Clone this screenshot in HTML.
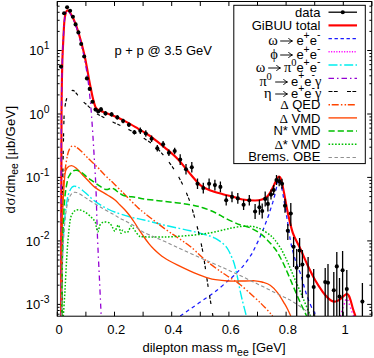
<!DOCTYPE html><html><head><meta charset="utf-8"><title>plot</title><style>
html,body{margin:0;padding:0;background:#fff}
#c{position:relative;width:374px;height:358px;overflow:hidden;background:#fff;font-family:"Liberation Sans", sans-serif;color:#000;font-size:13px}
.t{position:absolute;white-space:nowrap;line-height:13px;height:13px}
.yl{text-align:right;width:40px;left:9.5px}
.xl{text-align:center;width:40px}
.lg{text-align:right;width:140px;left:180.4px}
.g{font-family:"Liberation Serif", serif;font-size:14.5px;display:inline-block;text-align:center;line-height:13px}
.sp{display:inline-block;width:3.25px}
.ar{display:inline-block;width:12.8px;height:8px;position:relative}
.ar svg{position:absolute;left:0;top:0}
sup,sub{font-size:10.4px;line-height:0;position:relative;vertical-align:baseline}
sup{top:-6.2px} sub{top:3.4px}
sup.m{top:-7.3px}
sup.g{font-size:10.5px;display:inline;top:-6px}

</style></head><body><div id="c">
<svg width="374" height="358" viewBox="0 0 374 358" style="position:absolute;left:0;top:0">
<rect width="374" height="358" fill="#fff"/>
<defs><clipPath id="cp"><rect x="57.3" y="1.5" width="314.4" height="314.7"/></clipPath></defs>
<path d="M57.3,316.2 v-4.5 M57.3,1.5 v4.5 M85.9,316.2 v-4.5 M85.9,1.5 v4.5 M114.5,316.2 v-4.5 M114.5,1.5 v4.5 M143.1,316.2 v-4.5 M143.1,1.5 v4.5 M171.7,316.2 v-4.5 M171.7,1.5 v4.5 M200.3,316.2 v-4.5 M200.3,1.5 v4.5 M228.9,316.2 v-4.5 M228.9,1.5 v4.5 M257.5,316.2 v-4.5 M257.5,1.5 v4.5 M286.1,316.2 v-4.5 M286.1,1.5 v4.5 M314.7,316.2 v-4.5 M314.7,1.5 v4.5 M343.3,316.2 v-4.5 M343.3,1.5 v4.5 M371.9,316.2 v-4.5 M371.9,1.5 v4.5 M57.3,314.2 h2.3 M371.7,314.2 h-2.3 M57.3,310.5 h2.3 M371.7,310.5 h-2.3 M57.3,307.3 h2.3 M371.7,307.3 h-2.3 M57.3,304.4 h4.5 M371.7,304.4 h-4.5 M57.3,285.2 h2.3 M371.7,285.2 h-2.3 M57.3,274.1 h2.3 M371.7,274.1 h-2.3 M57.3,266.1 h2.3 M371.7,266.1 h-2.3 M57.3,260.0 h2.3 M371.7,260.0 h-2.3 M57.3,255.0 h2.3 M371.7,255.0 h-2.3 M57.3,250.7 h2.3 M371.7,250.7 h-2.3 M57.3,247.0 h2.3 M371.7,247.0 h-2.3 M57.3,243.8 h2.3 M371.7,243.8 h-2.3 M57.3,240.9 h4.5 M371.7,240.9 h-4.5 M57.3,221.8 h2.3 M371.7,221.8 h-2.3 M57.3,210.6 h2.3 M371.7,210.6 h-2.3 M57.3,202.7 h2.3 M371.7,202.7 h-2.3 M57.3,196.6 h2.3 M371.7,196.6 h-2.3 M57.3,191.5 h2.3 M371.7,191.5 h-2.3 M57.3,187.3 h2.3 M371.7,187.3 h-2.3 M57.3,183.6 h2.3 M371.7,183.6 h-2.3 M57.3,180.4 h2.3 M371.7,180.4 h-2.3 M57.3,177.4 h4.5 M371.7,177.4 h-4.5 M57.3,158.3 h2.3 M371.7,158.3 h-2.3 M57.3,147.2 h2.3 M371.7,147.2 h-2.3 M57.3,139.2 h2.3 M371.7,139.2 h-2.3 M57.3,133.1 h2.3 M371.7,133.1 h-2.3 M57.3,128.1 h2.3 M371.7,128.1 h-2.3 M57.3,123.8 h2.3 M371.7,123.8 h-2.3 M57.3,120.1 h2.3 M371.7,120.1 h-2.3 M57.3,116.9 h2.3 M371.7,116.9 h-2.3 M57.3,114.0 h4.5 M371.7,114.0 h-4.5 M57.3,94.9 h2.3 M371.7,94.9 h-2.3 M57.3,83.7 h2.3 M371.7,83.7 h-2.3 M57.3,75.8 h2.3 M371.7,75.8 h-2.3 M57.3,69.7 h2.3 M371.7,69.7 h-2.3 M57.3,64.6 h2.3 M371.7,64.6 h-2.3 M57.3,60.4 h2.3 M371.7,60.4 h-2.3 M57.3,56.7 h2.3 M371.7,56.7 h-2.3 M57.3,53.5 h2.3 M371.7,53.5 h-2.3 M57.3,50.5 h4.5 M371.7,50.5 h-4.5 M57.3,31.4 h2.3 M371.7,31.4 h-2.3 M57.3,20.3 h2.3 M371.7,20.3 h-2.3 M57.3,12.3 h2.3 M371.7,12.3 h-2.3 M57.3,6.2 h2.3 M371.7,6.2 h-2.3" stroke="#000" stroke-width="1" fill="none"/>
<g clip-path="url(#cp)" fill="none" stroke-linejoin="round">
<path d="M61.2,316.0 C61.2,296.7 61.2,232.7 61.3,200.0 C61.3,167.3 61.4,138.7 61.5,120.0 C61.6,101.3 61.6,98.0 61.8,88.0 C61.9,78.0 62.2,67.3 62.4,60.0 C62.6,52.7 62.8,50.3 63.1,44.0 C63.4,37.7 63.9,27.1 64.3,22.0 C64.7,16.9 65.1,15.4 65.6,13.5 C66.1,11.6 66.4,10.7 67.1,10.5 C67.8,10.3 68.7,10.5 70.0,12.5 C71.3,14.5 73.5,18.7 75.1,22.6 C76.7,26.5 78.0,31.0 79.5,36.0 C81.0,41.0 82.7,47.5 83.9,52.8 C85.2,58.1 86.0,62.6 87.0,68.0 C88.0,73.4 89.2,80.5 90.2,85.4 C91.2,90.3 91.9,94.1 92.7,97.6 C93.5,101.1 94.5,104.5 95.2,106.4 C95.9,108.3 96.4,108.3 97.0,109.0 C97.6,109.7 97.8,109.8 99.0,110.3 C100.2,110.8 101.7,111.3 104.0,112.2 C106.3,113.1 109.2,114.1 112.8,115.6 C116.4,117.1 121.2,119.2 125.4,121.4 C129.6,123.6 134.9,126.8 138.0,128.6 C141.1,130.4 141.6,130.7 144.0,132.2 C146.4,133.7 149.1,135.2 152.6,137.8 C156.1,140.4 160.9,144.3 165.1,147.8 C169.3,151.3 173.5,154.6 177.7,159.0 C181.9,163.4 186.5,169.7 190.3,174.0 C194.1,178.3 197.0,182.3 200.3,185.1 C203.7,187.8 206.6,189.0 210.4,190.5 C214.2,192.0 219.0,193.1 222.9,194.2 C226.8,195.3 230.7,196.1 234.0,197.0 C237.3,197.9 239.1,198.9 242.6,199.5 C246.1,200.1 251.9,200.5 255.1,200.5 C258.3,200.5 260.1,200.1 262.0,199.5 C263.9,198.9 265.1,198.3 266.5,197.2 C267.9,196.0 268.8,195.0 270.2,192.6 C271.6,190.2 274.0,185.0 275.2,182.6 C276.4,180.2 276.9,179.0 277.5,178.0 C278.1,177.0 278.5,176.6 279.0,176.6 C279.5,176.6 280.0,176.9 280.5,178.0 C281.0,179.1 281.4,180.6 282.0,183.0 C282.6,185.4 283.0,187.7 284.0,192.6 C285.0,197.5 286.3,206.0 287.8,212.7 C289.3,219.4 290.7,226.8 292.8,232.8 C294.9,238.8 297.7,243.1 300.2,248.5 C302.7,253.9 305.1,259.9 307.6,265.2 C310.1,270.5 312.7,275.8 315.2,280.2 C317.7,284.6 320.6,288.8 322.7,291.8 C324.8,294.8 326.5,296.5 328.0,298.0 C329.5,299.5 330.4,300.2 331.5,300.8 C332.6,301.4 333.4,301.6 334.5,301.6 C335.6,301.6 336.8,301.3 338.0,300.6 C339.2,299.9 340.6,298.7 342.0,297.6 C343.4,296.5 345.5,294.3 346.6,294.0 C347.7,293.7 348.1,294.4 348.8,295.6 C349.5,296.8 350.1,298.8 350.8,301.0 C351.5,303.2 352.2,306.5 353.0,309.0 C353.8,311.5 355.0,314.8 355.4,316.0" stroke="#ff0000" stroke-width="2.15"/>
<path d="M180.2,316.0 C181.9,314.8 186.5,311.6 190.3,309.0 C194.1,306.4 198.6,303.2 202.8,300.3 C207.0,297.4 211.2,294.8 215.4,291.5 C219.6,288.2 224.9,283.5 228.0,280.8 C231.1,278.1 231.4,278.1 234.0,275.5 C236.6,272.9 240.8,268.8 243.7,265.3 C246.6,261.8 249.3,257.7 251.3,254.6 C253.3,251.5 254.0,249.5 255.5,246.5 C257.0,243.5 258.8,239.8 260.2,236.6 C261.6,233.4 262.8,230.6 264.0,227.5 C265.2,224.4 266.6,220.7 267.7,217.8 C268.8,214.9 269.5,212.5 270.3,210.0 C271.1,207.5 271.9,205.2 272.7,202.7 C273.4,200.2 274.2,197.5 274.8,195.0 C275.4,192.5 276.0,189.8 276.5,187.6 C277.0,185.4 277.5,183.5 277.9,182.0 C278.3,180.5 278.6,179.0 279.0,178.8 C279.4,178.6 279.8,179.8 280.2,181.0 C280.6,182.2 281.0,183.9 281.4,186.0 C281.8,188.1 282.3,190.6 282.8,193.5 C283.3,196.4 283.9,199.9 284.5,203.5 C285.1,207.1 285.9,211.3 286.5,215.3 C287.1,219.3 287.8,223.4 288.4,227.5 C289.0,231.6 289.6,236.2 290.3,240.0 C291.0,243.8 291.7,246.8 292.5,250.0 C293.3,253.2 294.2,256.2 295.0,259.0 C295.8,261.8 296.6,264.1 297.5,266.5 C298.4,268.9 299.5,270.8 300.4,273.5 C301.3,276.2 302.2,279.6 303.0,282.5 C303.8,285.4 304.5,288.1 305.4,291.0 C306.3,293.9 307.2,296.8 308.5,300.0 C309.8,303.2 311.5,307.3 312.9,310.0 C314.3,312.7 316.1,315.0 316.7,316.0" stroke="#1a1aff" stroke-width="1.25" stroke-dasharray="3.7,3.4"/>
<path d="M340.3,316.0 C340.6,315.1 341.6,312.4 342.2,310.5 C342.8,308.6 343.6,306.2 344.1,304.5 C344.6,302.8 345.0,301.4 345.4,300.5 C345.8,299.6 346.2,298.9 346.6,298.8 C347.0,298.7 347.4,299.3 347.8,300.0 C348.2,300.7 348.6,301.9 349.0,303.2 C349.4,304.4 349.9,306.0 350.4,307.5 C350.9,309.0 351.5,310.6 352.0,312.0 C352.5,313.4 353.3,315.3 353.6,316.0" stroke="#ff00ff" stroke-width="1.4" stroke-dasharray="1.4,2.6"/>
<path d="M61.6,316.0 C61.7,310.0 61.8,291.8 62.0,280.0 C62.2,268.2 62.6,254.2 63.0,245.0 C63.4,235.8 63.8,230.8 64.2,225.0 C64.6,219.2 65.0,214.8 65.6,210.0 C66.2,205.2 67.1,199.6 68.0,196.0 C68.9,192.4 70.0,190.1 71.0,188.5 C72.0,186.9 72.7,186.4 73.9,186.2 C75.1,186.0 76.5,186.6 78.0,187.3 C79.5,188.0 81.0,189.1 82.7,190.5 C84.5,191.9 86.4,193.7 88.5,195.5 C90.6,197.3 92.0,199.2 95.2,201.4 C98.4,203.7 103.6,206.9 107.8,209.0 C112.0,211.1 116.2,212.6 120.4,214.0 C124.6,215.4 129.0,216.6 132.9,217.6 C136.8,218.6 138.6,218.7 144.0,220.0 C149.4,221.3 157.4,223.5 165.1,225.3 C172.8,227.1 183.2,229.1 190.3,230.8 C197.4,232.5 203.7,234.2 207.8,235.4 C211.9,236.6 212.9,237.2 215.0,238.2 C217.1,239.2 218.7,240.4 220.4,241.6 C222.1,242.8 223.7,244.2 225.0,245.5 C226.3,246.8 227.0,247.8 228.0,249.5 C229.0,251.2 230.0,253.2 231.0,255.5 C232.0,257.8 233.0,259.8 234.0,263.0 C235.0,266.2 236.0,270.4 237.0,275.0 C238.0,279.6 239.0,285.6 240.0,290.3 C241.0,295.0 241.9,298.7 243.0,303.0 C244.1,307.3 245.8,313.8 246.3,316.0" stroke="#00eeee" stroke-width="1.4" stroke-dasharray="9,2.3,1.8,2.6"/>
<path d="M61.1,316.0 C61.1,296.7 61.2,232.7 61.2,200.0 C61.2,167.3 61.3,138.5 61.4,120.0 C61.5,101.5 61.6,98.8 61.7,89.0 C61.9,79.2 62.1,68.3 62.3,61.0 C62.5,53.7 62.7,51.3 63.0,45.0 C63.3,38.7 63.8,28.1 64.2,23.0 C64.6,17.9 65.0,16.4 65.5,14.5 C66.0,12.6 66.2,11.7 67.0,11.5 C67.8,11.3 68.7,11.5 70.0,13.5 C71.3,15.5 73.5,19.7 75.0,23.6 C76.5,27.5 77.9,32.0 79.3,37.0 C80.7,42.0 82.3,48.3 83.5,53.8 C84.7,59.3 85.7,65.0 86.5,70.0 C87.3,75.0 87.9,79.3 88.5,84.0 C89.1,88.7 89.5,92.8 90.0,98.0 C90.5,103.2 91.0,108.0 91.5,115.0 C92.0,122.0 92.7,132.0 93.2,140.3 C93.7,148.6 94.2,156.7 94.7,165.0 C95.2,173.3 95.5,177.9 96.0,190.0 C96.5,202.1 96.9,222.5 97.5,237.5 C98.1,252.5 98.9,266.9 99.5,280.0 C100.1,293.1 100.9,310.0 101.2,316.0" stroke="#9400d3" stroke-width="1.3" stroke-dasharray="5.3,3.6,1.5,3.6"/>
<path d="M61.9,316.0 C62.0,305.0 62.1,272.7 62.2,250.0 C62.4,227.3 62.5,200.8 62.8,180.0 C63.1,159.2 63.5,136.7 63.8,125.0 C64.1,113.3 64.2,114.2 64.6,110.0 C65.0,105.8 65.6,102.7 66.3,100.0 C67.0,97.3 67.8,95.4 68.8,93.8 C69.8,92.2 71.6,90.7 72.6,90.4 C73.6,90.1 74.2,91.0 75.0,91.8 C75.8,92.6 76.4,93.5 77.6,95.0 C78.8,96.5 80.3,98.7 82.0,100.5 C83.7,102.3 85.7,103.8 87.7,105.6 C89.7,107.4 91.9,109.8 94.0,111.5 C96.1,113.2 97.2,113.8 100.3,115.6 C103.4,117.3 108.6,120.0 112.8,122.0 C117.0,124.0 121.2,125.7 125.4,127.8 C129.6,129.9 134.9,132.8 138.0,134.5 C141.1,136.2 141.8,137.0 143.8,138.3 C145.8,139.6 148.0,140.9 150.0,142.3 C152.0,143.8 154.1,145.2 156.0,147.0 C157.9,148.8 159.6,150.7 161.4,152.8 C163.2,154.9 165.1,157.1 167.0,159.5 C168.9,161.9 170.7,164.3 172.7,167.3 C174.7,170.3 176.9,173.7 179.0,177.5 C181.1,181.3 183.4,186.0 185.2,190.1 C187.0,194.2 188.5,197.8 190.0,202.0 C191.5,206.2 192.8,211.0 194.0,215.3 C195.2,219.6 196.4,223.7 197.5,228.0 C198.6,232.3 199.7,236.8 200.6,241.0 C201.5,245.2 202.2,248.6 203.0,253.0 C203.8,257.4 204.3,261.1 205.3,267.7 C206.3,274.3 207.8,284.8 209.1,292.8 C210.4,300.9 212.3,312.1 212.9,316.0" stroke="#000000" stroke-width="1.2" stroke-dasharray="3.5,1.8,3.3,9.0" stroke-dashoffset="1.9"/>
<path d="M61.5,316.0 C61.5,305.0 61.6,269.3 61.8,250.0 C62.0,230.7 62.3,211.3 62.6,200.0 C62.9,188.7 63.2,186.9 63.6,182.0 C64.0,177.1 64.3,174.9 65.0,170.4 C65.7,165.9 66.7,158.7 67.5,155.0 C68.3,151.3 69.2,149.5 70.0,148.0 C70.8,146.5 71.6,146.2 72.6,146.0 C73.6,145.8 74.6,146.2 76.0,147.0 C77.4,147.8 79.0,149.2 81.0,151.0 C83.0,152.8 84.9,155.2 87.7,157.9 C90.5,160.7 95.0,164.8 97.7,167.5 C100.4,170.2 101.5,171.7 104.0,174.2 C106.5,176.7 109.2,179.1 112.8,182.6 C116.4,186.1 121.2,191.0 125.4,195.2 C129.6,199.4 134.9,204.8 138.0,207.7 C141.1,210.6 141.7,210.8 144.0,212.7 C146.3,214.6 148.5,216.3 152.0,219.0 C155.5,221.7 160.8,225.9 165.1,229.0 C169.3,232.1 173.3,234.6 177.5,237.5 C181.7,240.4 185.7,242.8 190.3,246.5 C194.9,250.2 200.3,255.8 205.3,260.0 C210.3,264.1 216.3,268.4 220.4,271.4 C224.5,274.3 226.7,275.5 230.0,277.7 C233.3,279.9 235.8,281.1 240.0,284.5 C244.2,287.9 250.8,294.0 255.0,297.8 C259.2,301.6 262.1,304.5 265.0,307.5 C267.9,310.5 271.4,314.6 272.7,316.0" stroke="#ff4500" stroke-width="1.4" stroke-dasharray="7,2.2,1.5,2.2,1.5,1.7"/>
<path d="M61.4,316.0 C61.5,306.7 61.5,276.8 61.7,260.0 C61.9,243.2 62.1,226.7 62.5,215.0 C62.9,203.3 63.4,196.8 63.8,190.0 C64.2,183.2 64.5,177.7 65.0,174.0 C65.5,170.3 65.9,169.4 67.0,168.0 C68.1,166.6 69.9,165.6 71.4,165.6 C72.9,165.6 74.1,166.4 76.0,168.0 C77.9,169.6 80.6,172.8 82.7,175.0 C84.8,177.2 86.4,178.9 88.5,181.0 C90.6,183.1 92.0,185.2 95.2,187.6 C98.4,190.0 104.5,193.1 107.8,195.2 C111.1,197.3 113.0,198.4 115.0,200.0 C117.0,201.6 118.1,203.1 119.8,204.8 C121.5,206.5 123.4,208.2 125.0,210.0 C126.6,211.8 128.0,213.4 129.6,215.5 C131.2,217.6 132.9,220.1 134.5,222.5 C136.1,224.9 137.7,227.8 139.3,230.2 C140.9,232.6 142.4,234.7 144.0,237.0 C145.6,239.3 147.4,241.8 149.1,243.9 C150.8,246.0 152.4,247.7 154.0,249.3 C155.6,250.9 157.3,252.4 158.9,253.7 C160.5,255.0 161.9,256.2 163.5,257.3 C165.1,258.4 166.3,259.2 168.7,260.5 C171.1,261.8 174.1,263.4 177.7,265.2 C181.3,267.0 186.8,269.6 190.3,271.2 C193.8,272.8 196.1,273.7 198.7,274.7 C201.3,275.7 203.2,276.5 206.0,277.3 C208.8,278.1 211.7,279.1 215.4,279.7 C219.1,280.3 223.1,280.8 228.0,281.0 C232.9,281.2 240.5,281.0 245.0,281.0 C249.5,281.0 252.2,280.6 255.0,280.8 C257.8,281.0 259.5,281.2 262.0,282.0 C264.5,282.8 267.6,283.5 270.2,285.3 C272.8,287.1 275.4,289.9 277.7,292.8 C280.0,295.7 282.4,300.1 284.0,302.8 C285.6,305.5 286.4,306.8 287.5,309.0 C288.6,311.2 290.2,314.8 290.8,316.0" stroke="#ff4500" stroke-width="1.35"/>
<path d="M61.8,316.0 C61.9,306.7 62.0,276.0 62.3,260.0 C62.6,244.0 63.0,230.7 63.5,220.0 C64.0,209.3 64.3,202.7 65.0,196.0 C65.7,189.3 66.8,183.6 67.6,180.0 C68.4,176.4 69.1,176.0 70.0,174.5 C70.9,173.0 71.9,171.7 73.0,171.0 C74.1,170.3 75.1,170.1 76.4,170.3 C77.7,170.5 79.1,170.8 81.0,172.0 C82.9,173.2 85.5,175.9 87.7,177.6 C89.9,179.3 91.9,180.5 94.0,182.0 C96.1,183.5 98.3,185.2 100.3,186.4 C102.3,187.7 104.5,189.1 106.0,189.5 C107.5,189.9 108.1,189.2 109.0,189.0 C109.9,188.8 110.6,187.9 111.6,188.0 C112.6,188.1 113.9,188.8 115.0,189.5 C116.1,190.2 116.7,191.1 118.0,192.0 C119.3,192.9 121.1,194.4 122.9,195.2 C124.7,195.9 126.9,196.2 129.0,196.5 C131.1,196.8 132.9,196.8 135.4,197.2 C137.9,197.6 139.1,198.3 144.0,199.0 C148.9,199.7 157.4,200.5 165.1,201.4 C172.8,202.3 184.0,203.6 190.3,204.7 C196.6,205.8 198.6,206.4 202.8,207.7 C207.0,209.0 211.9,211.1 215.4,212.7 C218.9,214.3 220.9,215.9 224.0,217.5 C227.1,219.1 231.3,221.1 234.0,222.3 C236.7,223.5 237.3,223.9 240.0,224.8 C242.7,225.7 246.7,226.4 250.1,227.8 C253.5,229.2 257.3,231.4 260.2,233.5 C263.1,235.6 265.2,237.8 267.7,240.4 C270.2,243.0 273.1,246.2 275.2,249.0 C277.2,251.8 278.3,253.9 280.0,257.0 C281.7,260.1 283.2,263.0 285.3,267.7 C287.4,272.4 290.3,279.4 292.8,285.3 C295.3,291.2 298.1,297.7 300.4,302.8 C302.7,307.9 305.6,313.8 306.6,316.0" stroke="#00c000" stroke-width="1.5" stroke-dasharray="6.2,3"/>
<path d="M63.3,316.0 C63.6,311.7 64.5,299.3 65.0,290.0 C65.5,280.7 66.1,268.3 66.6,260.0 C67.1,251.7 67.5,245.8 68.0,240.0 C68.5,234.2 69.0,228.9 69.5,225.0 C70.0,221.1 70.3,218.7 71.0,216.5 C71.7,214.3 72.7,213.1 73.5,212.0 C74.3,210.9 75.1,210.6 76.0,210.2 C76.9,209.8 77.7,209.6 78.9,209.7 C80.1,209.8 81.5,210.3 83.0,211.0 C84.5,211.7 86.2,212.8 87.7,214.0 C89.2,215.2 90.8,216.7 92.0,218.0 C93.2,219.3 94.5,220.3 95.2,222.0 C96.0,223.7 96.1,226.4 96.5,228.0 C96.9,229.6 97.3,231.6 97.7,231.8 C98.1,232.0 98.4,230.1 98.8,229.0 C99.2,227.9 99.3,226.1 100.0,225.0 C100.7,223.9 101.8,222.8 102.8,222.3 C103.8,221.8 104.8,221.8 106.0,222.0 C107.2,222.2 108.8,222.4 110.0,223.4 C111.2,224.4 112.1,226.9 112.9,228.2 C113.7,229.5 114.2,231.3 114.9,231.2 C115.6,231.0 116.2,228.3 116.8,227.3 C117.4,226.3 118.1,224.3 118.8,225.3 C119.5,226.3 120.1,232.3 120.8,233.1 C121.5,233.9 121.9,230.3 122.7,230.2 C123.5,230.1 124.6,232.2 125.6,232.4 C126.6,232.6 127.8,232.2 128.6,231.2 C129.4,230.2 129.8,227.0 130.5,226.3 C131.2,225.7 131.7,226.5 132.5,227.3 C133.3,228.1 134.3,229.7 135.4,231.2 C136.5,232.7 138.0,235.2 139.3,236.1 C140.6,237.0 138.9,236.7 143.2,236.8 C147.5,237.0 157.2,237.2 165.0,237.0 C172.8,236.8 182.7,236.1 190.3,235.4 C197.9,234.7 204.6,233.8 210.4,232.8 C216.2,231.8 221.1,230.4 225.0,229.5 C228.9,228.6 231.1,228.1 234.0,227.6 C236.9,227.1 239.9,226.5 242.6,226.3 C245.3,226.1 247.6,226.1 250.0,226.3 C252.4,226.5 254.5,226.6 257.0,227.5 C259.5,228.4 262.8,230.1 265.2,231.6 C267.6,233.1 269.8,234.8 271.5,236.3 C273.2,237.8 273.7,238.5 275.2,240.4 C276.7,242.3 278.8,245.2 280.3,247.6 C281.8,249.9 282.8,252.0 284.0,254.5 C285.2,257.0 285.9,258.3 287.8,262.6 C289.7,266.9 292.8,274.3 295.3,280.2 C297.8,286.1 300.4,291.8 302.9,297.8 C305.4,303.8 309.1,313.0 310.4,316.0" stroke="#00c000" stroke-width="1.5" stroke-dasharray="1.6,1.7"/>
<path d="M61.5,316.0 C61.6,310.0 61.8,291.3 62.0,280.0 C62.2,268.7 62.6,256.7 63.0,248.0 C63.4,239.3 63.8,233.7 64.3,228.0 C64.8,222.3 65.1,218.4 65.7,214.0 C66.3,209.6 67.1,204.8 68.0,201.5 C68.9,198.2 69.9,196.0 71.0,194.5 C72.1,193.0 73.3,192.6 74.5,192.3 C75.7,192.1 76.6,192.4 78.0,193.0 C79.4,193.6 81.1,194.8 82.7,195.8 C84.3,196.8 84.8,197.3 87.7,199.2 C90.6,201.1 96.1,204.5 100.3,207.0 C104.5,209.5 109.5,212.1 112.8,214.0 C116.1,215.9 117.9,217.1 120.0,218.3 C122.1,219.5 123.4,219.9 125.4,221.0 C127.4,222.1 129.9,223.4 132.0,224.6 C134.1,225.8 136.0,227.1 138.0,228.4 C140.0,229.7 141.2,231.0 144.0,232.5 C146.8,234.0 151.5,235.8 155.0,237.3 C158.5,238.8 161.2,239.9 165.0,241.6 C168.8,243.3 171.4,244.7 177.7,247.6 C184.0,250.5 195.3,255.5 202.8,258.9 C210.3,262.2 217.7,265.4 222.9,267.7 C228.1,270.0 228.7,270.2 234.0,272.7 C239.3,275.2 247.3,278.9 255.0,282.7 C262.7,286.5 274.0,292.1 280.3,295.3 C286.6,298.5 288.6,299.1 292.8,301.6 C297.0,304.1 302.3,308.0 305.4,310.4 C308.5,312.8 310.5,315.1 311.5,316.0" stroke="#909090" stroke-width="1.1" stroke-dasharray="3.6,2.4"/>
<path d="M101.0,107.2 V111.6 M105.5,111.2 V115.6 M111.6,112.2 V116.6 M117.3,115.2 V119.6 M123.1,118.8 V123.2 M128.9,122.5 V126.9 M134.4,130.0 V134.4 M140.3,127.5 V133.9 M145.8,130.3 V136.7 M151.6,135.6 V142.0 M157.3,145.1 V151.5 M163.1,141.1 V147.5 M168.9,149.6 V156.0 M174.7,147.8 V154.2 M180.2,154.3 V164.9 M186.0,163.9 V174.5 M191.8,161.9 V172.5 M197.5,178.5 V189.1 M203.3,182.8 V193.4 M209.1,178.5 V189.1 M214.9,179.8 V190.4 M220.4,181.6 V192.2 M226.2,194.9 V205.5 M232.0,191.6 V202.2 M237.8,193.1 V203.7 M243.6,199.4 V210.0 M249.3,194.9 V205.5 M255.1,204.0 V219.0 M259.4,199.7 V214.7 M262.2,203.5 V218.5 M265.2,191.4 V206.4 M267.9,196.4 V211.4 M271.0,189.6 V199.6 M273.7,185.1 V195.1 M276.5,175.1 V185.1 M279.2,176.3 V186.3 M282.0,178.8 V188.8 M285.0,198.7 V212.7 M287.8,224.0 V240.0 M290.8,203.0 V226.0 M293.6,237.0 V267.0 M296.7,249.0 V316.0 M299.6,238.0 V267.0 M302.4,250.0 V298.0 M308.1,257.0 V316.0 M313.7,269.0 V316.0 M325.2,268.0 V316.0 M328.0,264.0 V316.0 M333.8,272.0 V316.0 M336.8,252.0 V316.0 M339.5,278.0 V316.0 M342.6,251.0 V316.0 M346.8,270.0 V316.0 M362.4,283.0 V316.0" stroke="#000" stroke-width="1.3"/>
<circle cx="61.0" cy="66.6" r="2.05" fill="#000" stroke="none"/>
<circle cx="64.1" cy="13.3" r="2.05" fill="#000" stroke="none"/>
<circle cx="67.1" cy="7.3" r="2.05" fill="#000" stroke="none"/>
<circle cx="70.1" cy="10.8" r="2.05" fill="#000" stroke="none"/>
<circle cx="72.9" cy="16.8" r="2.05" fill="#000" stroke="none"/>
<circle cx="75.6" cy="24.4" r="2.05" fill="#000" stroke="none"/>
<circle cx="78.4" cy="32.4" r="2.05" fill="#000" stroke="none"/>
<circle cx="81.2" cy="44.0" r="2.05" fill="#000" stroke="none"/>
<circle cx="84.2" cy="56.5" r="2.05" fill="#000" stroke="none"/>
<circle cx="86.9" cy="78.4" r="2.05" fill="#000" stroke="none"/>
<circle cx="89.7" cy="88.9" r="2.05" fill="#000" stroke="none"/>
<circle cx="92.5" cy="101.8" r="2.05" fill="#000" stroke="none"/>
<circle cx="95.5" cy="109.6" r="2.05" fill="#000" stroke="none"/>
<circle cx="98.2" cy="111.4" r="2.05" fill="#000" stroke="none"/>
<circle cx="101.0" cy="109.4" r="2.05" fill="#000" stroke="none"/>
<circle cx="105.5" cy="113.4" r="2.05" fill="#000" stroke="none"/>
<circle cx="111.6" cy="114.4" r="2.05" fill="#000" stroke="none"/>
<circle cx="117.3" cy="117.4" r="2.05" fill="#000" stroke="none"/>
<circle cx="123.1" cy="121.0" r="2.05" fill="#000" stroke="none"/>
<circle cx="128.9" cy="124.7" r="2.05" fill="#000" stroke="none"/>
<circle cx="134.4" cy="132.2" r="2.05" fill="#000" stroke="none"/>
<circle cx="140.3" cy="130.7" r="2.05" fill="#000" stroke="none"/>
<circle cx="145.8" cy="133.5" r="2.05" fill="#000" stroke="none"/>
<circle cx="151.6" cy="138.8" r="2.05" fill="#000" stroke="none"/>
<circle cx="157.3" cy="148.3" r="2.05" fill="#000" stroke="none"/>
<circle cx="163.1" cy="144.3" r="2.05" fill="#000" stroke="none"/>
<circle cx="168.9" cy="152.8" r="2.05" fill="#000" stroke="none"/>
<circle cx="174.7" cy="151.0" r="2.05" fill="#000" stroke="none"/>
<circle cx="180.2" cy="159.6" r="2.05" fill="#000" stroke="none"/>
<circle cx="186.0" cy="169.2" r="2.05" fill="#000" stroke="none"/>
<circle cx="191.8" cy="167.2" r="2.05" fill="#000" stroke="none"/>
<circle cx="197.5" cy="183.8" r="2.05" fill="#000" stroke="none"/>
<circle cx="203.3" cy="188.1" r="2.05" fill="#000" stroke="none"/>
<circle cx="209.1" cy="183.8" r="2.05" fill="#000" stroke="none"/>
<circle cx="214.9" cy="185.1" r="2.05" fill="#000" stroke="none"/>
<circle cx="220.4" cy="186.9" r="2.05" fill="#000" stroke="none"/>
<circle cx="226.2" cy="200.2" r="2.05" fill="#000" stroke="none"/>
<circle cx="232.0" cy="196.9" r="2.05" fill="#000" stroke="none"/>
<circle cx="237.8" cy="198.4" r="2.05" fill="#000" stroke="none"/>
<circle cx="243.6" cy="204.7" r="2.05" fill="#000" stroke="none"/>
<circle cx="249.3" cy="200.2" r="2.05" fill="#000" stroke="none"/>
<circle cx="255.1" cy="211.5" r="2.05" fill="#000" stroke="none"/>
<circle cx="259.4" cy="207.2" r="2.05" fill="#000" stroke="none"/>
<circle cx="262.2" cy="211.0" r="2.05" fill="#000" stroke="none"/>
<circle cx="265.2" cy="198.9" r="2.05" fill="#000" stroke="none"/>
<circle cx="267.9" cy="203.9" r="2.05" fill="#000" stroke="none"/>
<circle cx="271.0" cy="194.6" r="2.05" fill="#000" stroke="none"/>
<circle cx="273.7" cy="190.1" r="2.05" fill="#000" stroke="none"/>
<circle cx="276.5" cy="180.1" r="2.05" fill="#000" stroke="none"/>
<circle cx="279.2" cy="181.3" r="2.05" fill="#000" stroke="none"/>
<circle cx="282.0" cy="183.8" r="2.05" fill="#000" stroke="none"/>
<circle cx="285.0" cy="205.7" r="2.05" fill="#000" stroke="none"/>
<circle cx="287.8" cy="230.8" r="2.05" fill="#000" stroke="none"/>
<circle cx="290.8" cy="213.5" r="2.05" fill="#000" stroke="none"/>
<circle cx="293.6" cy="246.8" r="2.05" fill="#000" stroke="none"/>
<circle cx="296.7" cy="267.7" r="2.05" fill="#000" stroke="none"/>
<circle cx="299.6" cy="250.5" r="2.05" fill="#000" stroke="none"/>
<circle cx="302.4" cy="264.6" r="2.05" fill="#000" stroke="none"/>
<circle cx="308.1" cy="276.0" r="2.05" fill="#000" stroke="none"/>
<circle cx="313.7" cy="287.0" r="2.05" fill="#000" stroke="none"/>
<circle cx="325.2" cy="282.0" r="2.05" fill="#000" stroke="none"/>
<circle cx="328.0" cy="282.7" r="2.05" fill="#000" stroke="none"/>
<circle cx="333.8" cy="290.3" r="2.05" fill="#000" stroke="none"/>
<circle cx="336.8" cy="266.4" r="2.05" fill="#000" stroke="none"/>
<circle cx="339.5" cy="296.6" r="2.05" fill="#000" stroke="none"/>
<circle cx="342.6" cy="270.2" r="2.05" fill="#000" stroke="none"/>
<circle cx="346.8" cy="289.0" r="2.05" fill="#000" stroke="none"/>
<circle cx="362.4" cy="301.6" r="2.05" fill="#000" stroke="none"/>
</g>
<rect x="57.3" y="1.5" width="314.4" height="314.7" fill="none" stroke="#000" stroke-width="1"/>
<rect x="233.8" y="5.3" width="131.5" height="158.29999999999998" fill="#fff" stroke="#000" stroke-width="1"/>
<path d="M328.5,12.2 H357" stroke="#000" stroke-width="1.3"/><circle cx="342.75" cy="12.2" r="2.05" fill="#000"/>
<path d="M328.5,25.4 H357" stroke="#ff0000" stroke-width="2.15" fill="none"/>
<path d="M328.5,38.6 H357" stroke="#1a1aff" stroke-width="1.25" fill="none" stroke-dasharray="3.4,2.6"/>
<path d="M328.5,51.8 H357" stroke="#ff00ff" stroke-width="1.4" fill="none" stroke-dasharray="1.15,1.45"/>
<path d="M328.5,65.0 H357" stroke="#00eeee" stroke-width="1.4" fill="none" stroke-dasharray="9,2.3,1.8,2.6"/>
<path d="M328.5,78.3 H357" stroke="#9400d3" stroke-width="1.3" fill="none" stroke-dasharray="5.5,3,1.5,3"/>
<path d="M328.5,91.5 H357" stroke="#000000" stroke-width="1.2" fill="none" stroke-dasharray="4,1.4,3.8,9.3"/>
<path d="M328.5,104.7 H357" stroke="#ff4500" stroke-width="1.4" fill="none" stroke-dasharray="7,2.2,1.5,2.2,1.5,1.7" stroke-dashoffset="12.9"/>
<path d="M328.5,117.9 H357" stroke="#ff4500" stroke-width="1.35" fill="none"/>
<path d="M328.5,131.1 H357" stroke="#00c000" stroke-width="1.5" fill="none" stroke-dasharray="6.2,3"/>
<path d="M328.5,144.3 H357" stroke="#00c000" stroke-width="1.5" fill="none" stroke-dasharray="1.6,1.7"/>
<path d="M328.5,157.5 H357" stroke="#909090" stroke-width="1.1" fill="none" stroke-dasharray="3.4,2.6"/>
</svg>
<div class="t yl" style="top:44.2px">10<sup>1</sup></div>
<div class="t yl" style="top:107.7px">10<sup>0</sup></div>
<div class="t yl" style="top:171.1px">10<sup>-1</sup></div>
<div class="t yl" style="top:234.6px">10<sup>-2</sup></div>
<div class="t yl" style="top:298.1px">10<sup>-3</sup></div>
<div class="t xl" style="left:39.1px;top:323.4px">0</div>
<div class="t xl" style="left:96.3px;top:323.4px">0.2</div>
<div class="t xl" style="left:153.5px;top:323.4px">0.4</div>
<div class="t xl" style="left:210.7px;top:323.4px">0.6</div>
<div class="t xl" style="left:267.9px;top:323.4px">0.8</div>
<div class="t xl" style="left:325.1px;top:323.4px">1</div>
<div class="t" style="left:114.5px;top:44.2px">p + p @ 3.5 GeV</div>
<div class="t" style="left:114px;width:200px;text-align:center;top:341.3px">dilepton mass m<sub>ee</sub> [GeV]</div>
<div class="t" style="left:-90px;top:153.0px;width:200px;text-align:center;transform:rotate(-90deg)"><span style="letter-spacing:0.45px">d<span class="g" style="width:8.97px">σ</span>/</span>dm<sub>ee</sub> <span style="letter-spacing:0.34px">[<span class="g" style="width:7.49px">μ</span>b/GeV]</span></div>
<div class="t lg" style="top:5.7px">data</div>
<div class="t lg" style="top:19.0px">GiBUU total</div>
<div class="t lg" style="top:34.4px"><span class="g" style="width:8.92px">ω</span><span class="sp"></span><span class="ar"><svg width="12.8" height="8" viewBox="0 0 12.8 8"><path d="M0.2,4 H11.8 M8.4,1 Q10,3.3 12.6,4 Q10,4.7 8.4,7" stroke="#000" stroke-width="0.95" fill="none"/></svg></span><span class="sp"></span>e<sup>+</sup>e<sup class="m">-</sup></div>
<div class="t lg" style="top:48.3px"><span class="g" style="width:6.77px">ϕ</span><span class="sp"></span><span class="ar"><svg width="12.8" height="8" viewBox="0 0 12.8 8"><path d="M0.2,4 H11.8 M8.4,1 Q10,3.3 12.6,4 Q10,4.7 8.4,7" stroke="#000" stroke-width="0.95" fill="none"/></svg></span><span class="sp"></span>e<sup>+</sup>e<sup class="m">-</sup></div>
<div class="t lg" style="top:61.3px"><span class="g" style="width:8.92px">ω</span><span class="sp"></span><span class="ar"><svg width="12.8" height="8" viewBox="0 0 12.8 8"><path d="M0.2,4 H11.8 M8.4,1 Q10,3.3 12.6,4 Q10,4.7 8.4,7" stroke="#000" stroke-width="0.95" fill="none"/></svg></span><span class="sp"></span><span class="g" style="width:7.14px">π</span><sup class="g">0</sup>e<sup>+</sup>e<sup class="m">-</sup></div>
<div class="t lg" style="top:74.6px"><span class="g" style="width:7.14px">π</span><sup class="g">0</sup><span class="sp"></span><span class="ar"><svg width="12.8" height="8" viewBox="0 0 12.8 8"><path d="M0.2,4 H11.8 M8.4,1 Q10,3.3 12.6,4 Q10,4.7 8.4,7" stroke="#000" stroke-width="0.95" fill="none"/></svg></span><span class="sp"></span>e<sup>+</sup>e<sup class="m">-</sup><span class="g" style="width:5.34px">γ</span></div>
<div class="t lg" style="top:87.3px"><span class="g" style="width:7.84px">η</span><span class="sp"></span><span class="ar"><svg width="12.8" height="8" viewBox="0 0 12.8 8"><path d="M0.2,4 H11.8 M8.4,1 Q10,3.3 12.6,4 Q10,4.7 8.4,7" stroke="#000" stroke-width="0.95" fill="none"/></svg></span><span class="sp"></span>e<sup>+</sup>e<sup class="m">-</sup><span class="g" style="width:5.34px">γ</span></div>
<div class="t lg" style="top:98.4px"><span class="g" style="width:8.4px;font-size:13.2px">Δ</span> QED</div>
<div class="t lg" style="top:111.6px"><span class="g" style="width:8.4px;font-size:13.2px">Δ</span> VMD</div>
<div class="t lg" style="top:124.3px">N* VMD</div>
<div class="t lg" style="top:137.7px"><span class="g" style="width:8.4px;font-size:13.2px">Δ</span>* VMD</div>
<div class="t lg" style="top:150.2px">Brems. OBE</div>
</div></body></html>
